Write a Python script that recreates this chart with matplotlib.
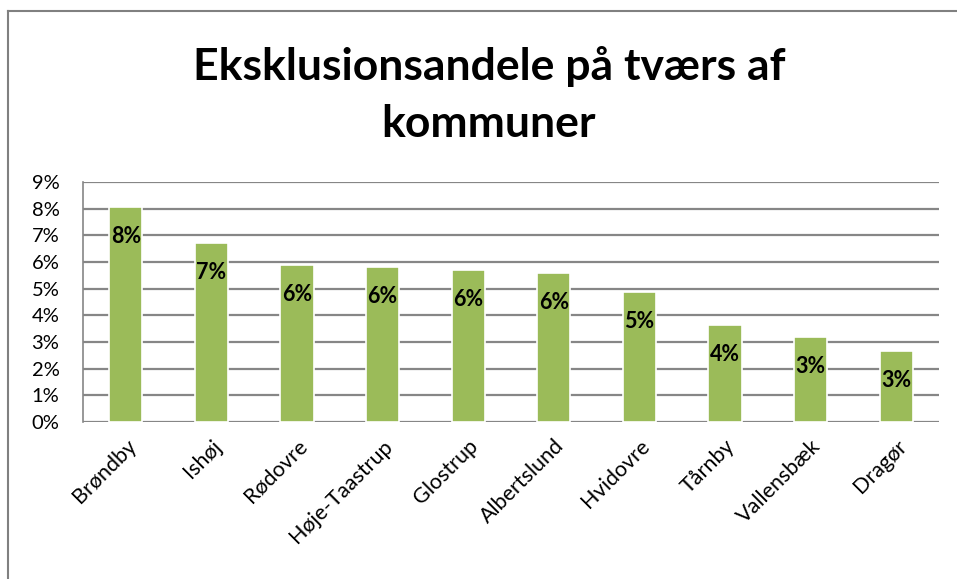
import matplotlib.pyplot as plt
from matplotlib.lines import Line2D
from matplotlib.ticker import PercentFormatter

kommuner = ['Brøndby', 'Ishøj', 'Rødovre', 'Høje-Taastrup', 'Glostrup',
            'Albertslund', 'Hvidovre', 'Tårnby', 'Vallensbæk', 'Dragør']
andele = [8.05, 6.7, 5.88, 5.8, 5.7, 5.58, 4.87, 3.63, 3.18, 2.66]
y_ticks = list(range(0, 10))

plt.rcParams['font.family'] = ['Lato', 'DejaVu Sans']

fig = plt.figure(figsize=(9.57, 5.79), dpi=100)
W, H = 957, 579
ax = fig.add_axes([83 / W, 1 - 422 / H, (939 - 83) / W, (422 - 182) / H])

x = range(len(kommuner))
bars = ax.bar(x, andele, width=0.39, color='#9BBB59', edgecolor='white',
              linewidth=1.2, zorder=3)

# labels "inside end", rounded like Excel
for b, v in zip(bars, andele):
    ax.annotate(f'{v:.0f}%', (b.get_x() + b.get_width() / 2, v),
                xytext=(0, -29), textcoords='offset pixels',
                ha='center', va='center', fontsize=15.5, fontweight='bold',
                color='black', zorder=4)

ax.set_ylim(0, 9)
ax.set_xlim(-0.5, len(kommuner) - 0.5)
ax.set_yticks(y_ticks)
ax.yaxis.set_major_formatter(PercentFormatter(decimals=0))
ax.grid(axis='y', color='#868686', linewidth=1.6, zorder=1)
ax.tick_params(axis='y', length=0, labelsize=14.5, pad=17)
ax.tick_params(axis='x', length=0, labelsize=15.5, pad=10)
ax.set_xticks(list(x))
ax.set_xticklabels(kommuner, rotation=45, ha='right', rotation_mode='anchor')

for s in ['right', 'bottom', 'top']:
    ax.spines[s].set_visible(False)
ax.spines['left'].set_color('#868686')
ax.spines['left'].set_linewidth(1.2)

fig.text(489 / W, 1 - 95 / H, 'Eksklusionsandele på tværs af\nkommuner',
         ha='center', va='center', fontsize=32, fontweight='bold',
         linespacing=1.5)

# outer chart frame (partly cut off)
fig.add_artist(Line2D([8 / W, 8 / W], [0, 1 - 11 / H], color='#808080',
                      linewidth=1.5, transform=fig.transFigure))
fig.add_artist(Line2D([8 / W, 1], [1 - 11 / H, 1 - 11 / H], color='#808080',
                      linewidth=1.5, transform=fig.transFigure))

fig.savefig('out.png', dpi=100)
